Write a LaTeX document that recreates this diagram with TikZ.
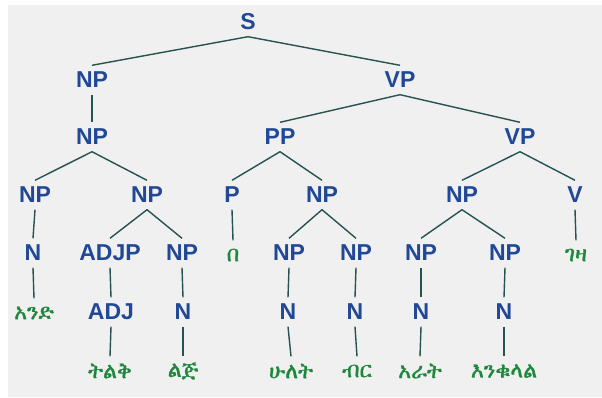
\documentclass[tikz,border=0pt]{standalone}
\usepackage{fontspec}
\setmainfont{Liberation Sans}
\IfFontExistsTF{FreeSerif}{\newfontfamily\ethfont[FakeBold=1.2]{FreeSerif}}{%
 \IfFontExistsTF{Abyssinica SIL}{\newfontfamily\ethfont[FakeBold=1.2]{Abyssinica SIL}}{%
   \newfontfamily\ethfont{DejaVu Sans}}}
\definecolor{bggray}{RGB}{240,240,240}
\definecolor{catblue}{RGB}{32,72,150}
\definecolor{wordgreen}{RGB}{30,135,60}
\definecolor{linecol}{RGB}{38,82,82}
\tikzset{
  cat/.style={font=\bfseries\fontsize{23}{23}\selectfont, text=catblue, inner sep=0pt, minimum height=29pt},
  word/.style={font=\ethfont\fontsize{22}{22}\selectfont, text=wordgreen, inner sep=0pt, minimum height=29pt},
  edge/.style={draw=linecol, line width=1.4pt}
}
\begin{document}
\begin{tikzpicture}[x=1pt,y=-1pt]
\useasboundingbox (0,0) rectangle (602,397);
\fill[white] (0,0) rectangle (602,397);
\fill[bggray] (8,5) rectangle (602,397);
% row 1
\node[cat] (S) at (248,22) {S};
% row 2
\node[cat] (np1) at (92,80) {NP};
\node[cat] (vp1) at (400,80) {VP};
% row 3
\node[cat] (np2) at (92,137) {NP};
\node[cat] (pp) at (280,137) {PP};
\node[cat] (vp2) at (520,137) {VP};
% row 4
\node[cat] (np3) at (35,195) {NP};
\node[cat] (np4) at (147,195) {NP};
\node[cat] (p) at (232,195) {P};
\node[cat] (np5) at (322,195) {NP};
\node[cat] (np6) at (462,195) {NP};
\node[cat] (v) at (575,195) {V};
% row 5
\node[cat] (n1) at (33,253) {N};
\node[cat] (adjp) at (110,253) {ADJP};
\node[cat] (np7) at (182,253) {NP};
\node[word] (w2) at (233,255) {በ};
\node[cat] (np8) at (289,253) {NP};
\node[cat] (np9) at (356,253) {NP};
\node[cat] (np10) at (421,253) {NP};
\node[cat] (np11) at (505,253) {NP};
\node[word] (w9) at (576,255) {ገዛ};
% row 6
\node[word] (w1) at (34,313) {አንድ};
\node[cat] (adj) at (111,312) {ADJ};
\node[cat] (n2) at (183,312) {N};
\node[cat] (n3) at (288,312) {N};
\node[cat] (n4) at (355,312) {N};
\node[cat] (n5) at (421,312) {N};
\node[cat] (n6) at (504,312) {N};
% row 7
\node[word] (w3) at (110,371) {ትልቅ};
\node[word] (w4) at (183,371) {ልጅ};
\node[word] (w5) at (291,371) {ሁለት};
\node[word] (w6) at (357,371) {ብር};
\node[word] (w7) at (420,371) {አራት};
\node[word] (w8) at (504,371) {እንቁላል};
% edges
\draw[edge] (np1.north) -- (S.south) -- (vp1.north);
\draw[edge] (np1.south) -- (np2.north);
\draw[edge] (pp.north) -- (vp1.south) -- (vp2.north);
\draw[edge] (np3.north) -- (np2.south) -- (np4.north);
\draw[edge] (p.north) -- (pp.south) -- (np5.north);
\draw[edge] (np6.north) -- (vp2.south) -- (v.north);
\draw[edge] (np3.south) -- (n1.north);
\draw[edge] (adjp.north) -- (np4.south) -- (np7.north);
\draw[edge] (p.south) -- (w2.north);
\draw[edge] (np8.north) -- (np5.south) -- (np9.north);
\draw[edge] (np10.north) -- (np6.south) -- (np11.north);
\draw[edge] (v.south) -- (w9.north);
\draw[edge] (n1.south) -- (w1.north);
\draw[edge] (adjp.south) -- (adj.north);
\draw[edge] (np7.south) -- (n2.north);
\draw[edge] (np8.south) -- (n3.north);
\draw[edge] (np9.south) -- (n4.north);
\draw[edge] (np10.south) -- (n5.north);
\draw[edge] (np11.south) -- (n6.north);
\draw[edge] (adj.south) -- (w3.north);
\draw[edge] (n2.south) -- (w4.north);
\draw[edge] (n3.south) -- (w5.north);
\draw[edge] (n4.south) -- (w6.north);
\draw[edge] (n5.south) -- (w7.north);
\draw[edge] (n6.south) -- (w8.north);
\end{tikzpicture}
\end{document}
